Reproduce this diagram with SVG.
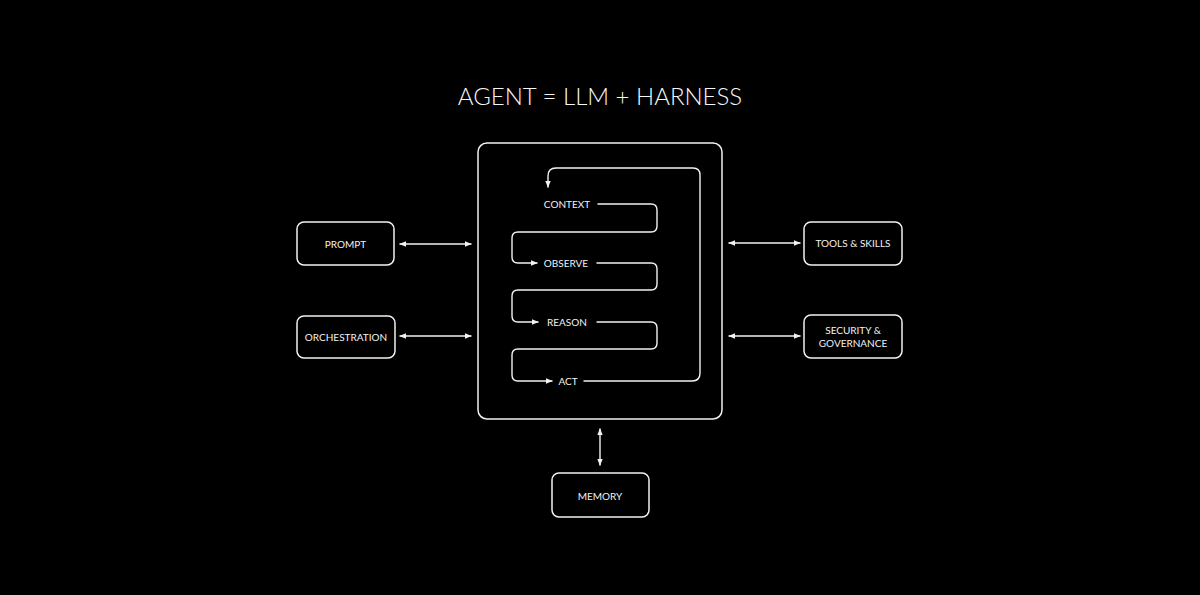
<svg xmlns="http://www.w3.org/2000/svg" width="1200" height="595" viewBox="0 0 1200 595">
<style>
.box{fill:none;stroke:#f2f2f2;stroke-width:1.5}
.ln{fill:none;stroke:#f2f2f2;stroke-width:1.4;stroke-linecap:round;stroke-linejoin:round}
.lbl{fill:#f2f2f2;font-family:Lato,"Liberation Sans",sans-serif;font-size:10px;text-anchor:middle;dominant-baseline:central}
.title{fill:#f7f7f7;font-family:Lato,"Liberation Sans",sans-serif;font-weight:300;font-size:24px;text-anchor:middle}
</style>
<defs>
<marker id="ah" viewBox="0 0 10 10" refX="9" refY="5" markerWidth="7" markerHeight="7" markerUnits="userSpaceOnUse" orient="auto-start-reverse">
<path d="M0,1 L10,5 L0,9 Z" fill="#f2f2f2"/>
</marker>
</defs>
<rect width="1200" height="595" fill="#000"/>
<text class="title" x="600" y="105">AGENT = LLM + HARNESS</text>

<g id="harness">
<rect class="box" x="478" y="143" width="244" height="276" rx="9"/>
</g>

<g id="loop-context"><text class="lbl" x="567" y="204">CONTEXT</text></g>
<g id="loop-observe"><text class="lbl" x="566" y="263">OBSERVE</text></g>
<g id="loop-reason"><text class="lbl" x="567" y="322">REASON</text></g>
<g id="loop-act"><text class="lbl" x="568" y="381">ACT</text></g>

<g id="prompt"><rect class="box" x="297" y="222" width="97" height="43" rx="7"/><text class="lbl" x="345.5" y="243.5">PROMPT</text></g>
<g id="orchestration"><rect class="box" x="297" y="316" width="98" height="42" rx="7"/><text class="lbl" x="346" y="337">ORCHESTRATION</text></g>
<g id="tools"><rect class="box" x="804" y="222" width="98" height="43" rx="7"/><text class="lbl" x="853" y="243">TOOLS &amp; SKILLS</text></g>
<g id="security"><rect class="box" x="804" y="315" width="98" height="43" rx="7"/><text class="lbl" x="853" y="330">SECURITY &amp;</text><text class="lbl" x="853" y="343">GOVERNANCE</text></g>
<g id="memory"><rect class="box" x="552" y="473" width="97" height="44" rx="7"/><text class="lbl" x="600" y="496">MEMORY</text></g>

<g id="connectors">
<path class="ln" d="M400,244 L471,244" marker-start="url(#ah)" marker-end="url(#ah)"/>
<path class="ln" d="M400,336 L471,336" marker-start="url(#ah)" marker-end="url(#ah)"/>
<path class="ln" d="M729,243 L800,243" marker-start="url(#ah)" marker-end="url(#ah)"/>
<path class="ln" d="M729,336 L800,336" marker-start="url(#ah)" marker-end="url(#ah)"/>
<path class="ln" d="M600,429 L600,465" marker-start="url(#ah)" marker-end="url(#ah)"/>

<path class="ln" d="M598,204 L651,204 Q657,204 657,210 L657,226 Q657,232 651,232 L518,232 Q512,232 512,238 L512,257 Q512,263 518,263 L537,263" marker-end="url(#ah)"/>
<path class="ln" d="M597,263 L651,263 Q657,263 657,269 L657,284 Q657,290 651,290 L518,290 Q512,290 512,296 L512,316 Q512,322 518,322 L538,322" marker-end="url(#ah)"/>
<path class="ln" d="M597,322 L651,322 Q657,322 657,328 L657,343 Q657,349 651,349 L518,349 Q512,349 512,355 L512,375 Q512,381 518,381 L552,381" marker-end="url(#ah)"/>
<path class="ln" d="M584,381 L692,381 Q700,381 700,373 L700,175 Q700,168 693,168 L556,168 Q548,168 548,176 L548,187" marker-end="url(#ah)"/>
</g>
</svg>
